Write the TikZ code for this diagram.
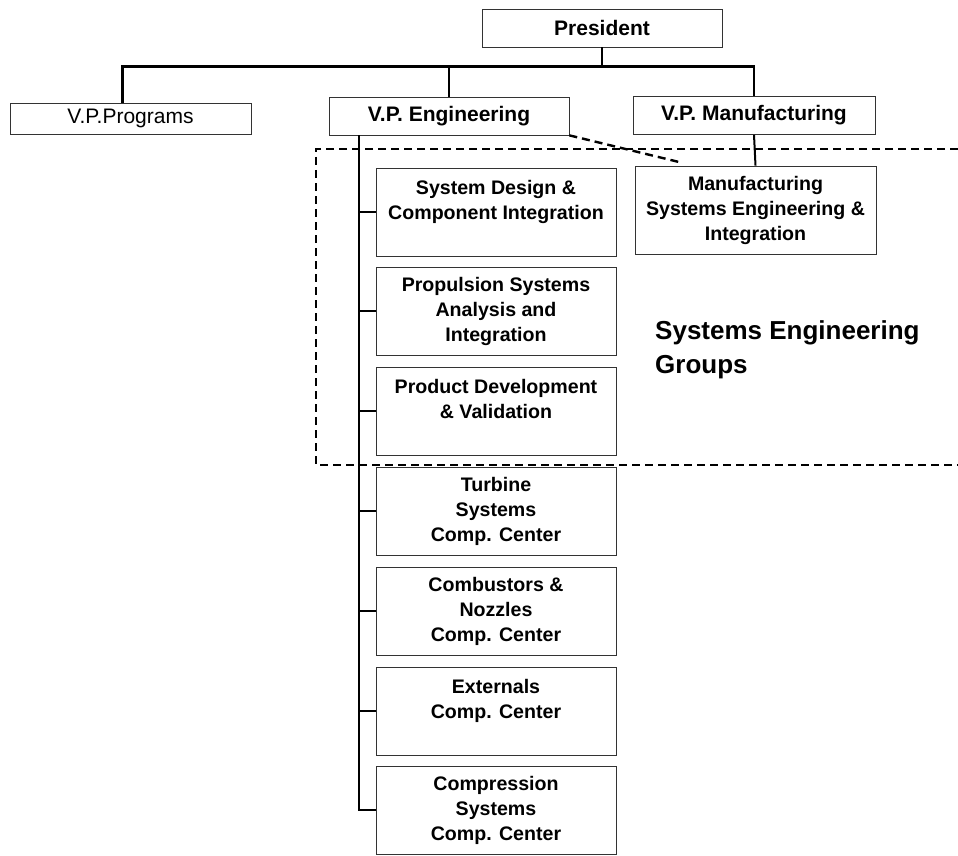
\documentclass[tikz,border=0pt]{standalone}
\usepackage{fontspec}
\setmainfont{Liberation Sans}
\begin{document}
\begin{tikzpicture}[x=1pt, y=-1pt,
  box/.style={draw=black!80, line width=0.7pt, minimum width=240pt, inner sep=0pt, align=center,
    font=\fontsize{19.6}{25}\selectfont\bfseries},
  topbox/.style={box, minimum height=38pt, font=\fontsize{21}{24}\selectfont\bfseries},
  unitbox/.style={box, minimum height=88pt},
  conn/.style={line width=2pt},
  busline/.style={line width=2.6pt},
  grp/.style={line width=2.4pt, dash pattern=on 8pt off 5pt}]
  \useasboundingbox (0,0) rectangle (958,856);
  \def\xU{496}
  % top of the chart
  \node[topbox] (pres) at (602,28) {President};
  \node[topbox, minimum height=31pt, minimum width=241pt, font=\fontsize{21}{24}\selectfont] (prog) at (130.5,118.5) {V.P.Programs};
  \node[topbox] (vpe) at (449,116) {V.P. Engineering};
  \node[topbox, minimum width=242pt] (vpm) at (754,115.5) {V.P. Manufacturing};
  \node[box, minimum height=88pt, minimum width=241pt] (mse) at (755.5,210) {Manufacturing\\Systems Engineering \&\\Integration};
  \coordinate (bus) at ([yshift=-19pt]pres.south);
  \draw[conn] (pres.south) -- (bus);
  \draw[busline] ([xshift=-8pt]prog.north) |- (bus) -| (vpm.north);
  \draw[busline] (vpe.north) -- (vpe.north |- bus);
  \draw[conn] (vpm.south) -- (mse.north);
  % units under V.P. Engineering
  \node[unitbox] (sdci) at (\xU,212) {System Design \&\\Component Integration\\~};
  \node[unitbox] (psai) at (\xU,311) {Propulsion Systems\\Analysis and\\Integration};
  \node[unitbox] (pdv)  at (\xU,411) {Product Development\\\& Validation\\~};
  \node[unitbox] (tsc)  at (\xU,511) {Turbine\\Systems\\Comp. Center};
  \node[unitbox] (cnc)  at (\xU,611) {Combustors \&\\Nozzles\\Comp. Center};
  \node[unitbox] (ecc)  at (\xU,711) {Externals\\Comp. Center\\~};
  \node[unitbox] (csc)  at (\xU,810) {Compression\\Systems\\Comp. Center};
  \coordinate (spine) at ([xshift=-90pt]vpe.south);
  \draw[conn] (spine) |- (csc.west);
  \foreach \u in {sdci,psai,pdv,tsc,cnc,ecc}
    \draw[conn] (spine |- \u.west) -- (\u.west);
  % systems engineering groups
  \draw[grp] (958,149) -- (316,149) -- (316,465) -- (958,465);
  \draw[grp] (vpe.south east) -- ([xshift=47pt,yshift=3pt]mse.north west);
  \node[font=\fontsize{26}{34}\selectfont\bfseries, align=left, anchor=north west, inner sep=0pt] (grplbl) at (655,320) {Systems Engineering\\Groups};
\end{tikzpicture}
\end{document}
